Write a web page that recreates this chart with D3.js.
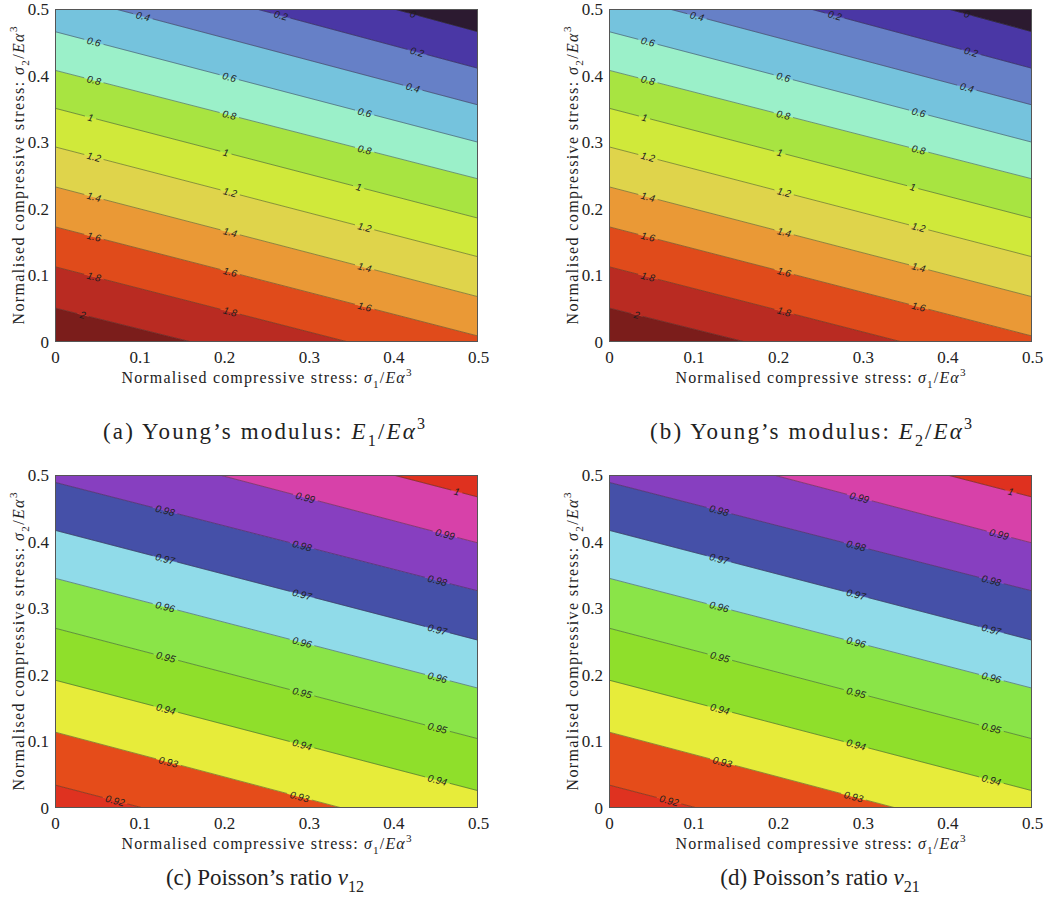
<!DOCTYPE html>
<html>
<head>
<meta charset="utf-8">
<script src="https://cdn.jsdelivr.net/npm/d3@7"></script>
<style>
  body { margin: 0; background: #fff; }
  .tick text { font-family: "Liberation Serif", serif; font-size: 17px; fill: #222; }
  .clabel { font-family: "Liberation Sans", sans-serif; font-style: italic; font-size: 10px; fill: #1e1e1e; }
  .title { font-family: "Liberation Serif", serif; fill: #222; }
</style>
</head>
<body>
<svg width="1044" height="900"></svg>
<script>
var xTicks = [0, 0.1, 0.2, 0.3, 0.4, 0.5];
var yTicks = [0, 0.1, 0.2, 0.3, 0.4, 0.5];

// contour lines listed bottom to top: sigma2 where each line meets sigma1 = 0 and sigma1 = 0.5
// (a) E1/Ea^3
var levelsA = [2, 1.8, 1.6, 1.4, 1.2, 1, 0.8, 0.6, 0.4, 0.2, 0];
var leftA = [0.051, 0.113, 0.173, 0.233, 0.293, 0.351, 0.408, 0.466, 0.524, 0.581, 0.638];
var rightA = [-0.107, -0.050, 0.009, 0.068, 0.128, 0.186, 0.245, 0.300, 0.356, 0.411, 0.466];
var labelsA = [[0.033], [0.046, 0.207], [0.046, 0.207, 0.366], [0.046, 0.207, 0.366], [0.046, 0.207, 0.366],
  [0.042, 0.202, 0.359], [0.046, 0.206, 0.366], [0.046, 0.206, 0.366], [0.104, 0.423], [0.267, 0.428], [0.423]];
var colorsA = ["#7b1d1b", "#b92b22", "#e04b1b", "#ea9936", "#dfd44b", "#d0e93a", "#a8e441",
  "#9bf0c9", "#75c3dd", "#6680c7", "#4a37a5", "#2c1a30"];

// (b) E2/Ea^3
var levelsB = [2, 1.8, 1.6, 1.4, 1.2, 1, 0.8, 0.6, 0.4, 0.2, 0];
var leftB = [0.051, 0.113, 0.173, 0.233, 0.293, 0.351, 0.408, 0.466, 0.524, 0.581, 0.638];
var rightB = [-0.107, -0.050, 0.009, 0.068, 0.128, 0.186, 0.245, 0.300, 0.356, 0.411, 0.466];
var labelsB = labelsA;
var colorsB = colorsA;

// (c) nu12
var levelsC = [0.92, 0.93, 0.94, 0.95, 0.96, 0.97, 0.98, 0.99, 1];
var leftC = [0.0345, 0.114, 0.192, 0.270, 0.345, 0.417, 0.489, 0.565, 0.632];
var rightC = [-0.131, -0.054, 0.026, 0.104, 0.180, 0.252, 0.326, 0.398, 0.467];
var labelsC = [[0.071], [0.134, 0.289], [0.131, 0.292, 0.452], [0.131, 0.292, 0.452], [0.130, 0.292, 0.452],
  [0.130, 0.292, 0.452], [0.130, 0.292, 0.452], [0.296, 0.461], [0.475]];
var colorsC = ["#df3220", "#e54c1a", "#e7ec3a", "#8fdf2b", "#8ae448", "#90dbe9", "#4550a8",
  "#873fc0", "#d741a9", "#df311f"];

// (d) nu21
var levelsD = [0.92, 0.93, 0.94, 0.95, 0.96, 0.97, 0.98, 0.99, 1];
var leftD = [0.0345, 0.114, 0.192, 0.270, 0.345, 0.417, 0.489, 0.565, 0.632];
var rightD = [-0.131, -0.054, 0.026, 0.104, 0.180, 0.252, 0.326, 0.398, 0.467];
var labelsD = labelsC;
var colorsD = colorsC;

var svg = d3.select("svg");
var pw = 423, ph = 333;

var xTitle = [["Normalised compressive stress: "], ["σ", "i"], ["1", "sub"], ["/"], ["E", "i"], ["α", "i"], ["3", "sup"]];
var yTitle = [["Normalised compressive stress: "], ["σ", "i"], ["2", "sub"], ["/"], ["E", "i"], ["α", "i"], ["3", "sup"]];

var panels = [
  {id: "a", left: 55, top: 9, levels: levelsA, l: leftA, r: rightA, labels: labelsA, colors: colorsA, capY: 439, capX: 264, capW: 322,
   caption: [["(a) Young’s modulus: "], ["E", "i"], ["1", "sub"], ["/"], ["E", "i"], ["α", "i"], ["3", "sup"]]},
  {id: "b", left: 609, top: 9, levels: levelsB, l: leftB, r: rightB, labels: labelsB, colors: colorsB, capY: 439, capX: 811, capW: 322,
   caption: [["(b) Young’s modulus: "], ["E", "i"], ["2", "sub"], ["/"], ["E", "i"], ["α", "i"], ["3", "sup"]]},
  {id: "c", left: 55, top: 475, levels: levelsC, l: leftC, r: rightC, labels: labelsC, colors: colorsC, capY: 885, capX: 265, capW: null,
   caption: [["(c) Poisson’s ratio "], ["ν", "i"], ["12", "sub"]]},
  {id: "d", left: 609, top: 475, levels: levelsD, l: leftD, r: rightD, labels: labelsD, colors: colorsD, capY: 885, capX: 820, capW: null,
   caption: [["(d) Poisson’s ratio "], ["ν", "i"], ["21", "sub"]]}
];

function mathText(sel, parts, size) {
  var cur = 0;
  parts.forEach(function(p) {
    var t = sel.append("tspan").text(p[0]);
    var off = 0;
    if (p[1] === "i") t.style("font-style", "italic");
    if (p[1] === "sub") { off = size * 0.3; t.attr("font-size", size * 0.7); }
    if (p[1] === "sup") { off = -size * 0.45; t.attr("font-size", size * 0.7); }
    if (off !== cur) t.attr("dy", off - cur);
    cur = off;
  });
}

panels.forEach(function(p) {
  var g = svg.append("g").attr("transform", "translate(" + p.left + "," + p.top + ")");
  var x = d3.scaleLinear().domain([0, 0.5]).range([0, pw]);
  var y = d3.scaleLinear().domain([0, 0.5]).range([ph, 0]);

  g.append("clipPath").attr("id", "clip-" + p.id)
    .append("rect").attr("width", pw).attr("height", ph);
  var plot = g.append("g").attr("clip-path", "url(#clip-" + p.id + ")");

  // filled bands between consecutive lines
  var bounds = [{l: -1, r: -1}]
    .concat(p.levels.map(function(v, i) { return {l: p.l[i], r: p.r[i]}; }))
    .concat([{l: 2, r: 2}]);
  plot.selectAll("path.band")
    .data(d3.pairs(bounds))
    .enter().append("path")
    .attr("class", "band")
    .attr("d", function(d) {
      return d3.line()([[x(0), y(d[0].l)], [x(0.5), y(d[0].r)], [x(0.5), y(d[1].r)], [x(0), y(d[1].l)]]) + "Z";
    })
    .attr("fill", function(d, i) { return p.colors[i]; })
    .attr("stroke", function(d, i) { return p.colors[i]; })
    .attr("stroke-width", 0.6);

  // contour lines, broken where a label sits
  p.levels.forEach(function(v, i) {
    var x0 = x(0), y0 = y(p.l[i]), x1 = x(0.5), y1 = y(p.r[i]);
    var len = Math.hypot(x1 - x0, y1 - y0);
    var ang = Math.atan2(y1 - y0, x1 - x0);
    var cuts = [];
    p.labels[i].forEach(function(s) {
      var t = (x(s) - x0) / (x1 - x0);
      var cx = x0 + t * (x1 - x0), cy = y0 + t * (y1 - y0);
      var lab = plot.append("text")
        .attr("class", "clabel")
        .attr("text-anchor", "middle")
        .attr("dy", "0.35em")
        .attr("transform", "translate(" + cx + "," + cy + ") rotate(" + (ang * 180 / Math.PI) + ")")
        .text(String(v));
      var half = lab.node().getComputedTextLength() / 2 + 3;
      cuts.push([t * len - half, t * len + half]);
    });
    var segs = [], start = 0;
    cuts.forEach(function(c) { segs.push([start, c[0]]); start = c[1]; });
    segs.push([start, len]);
    plot.selectAll(null)
      .data(segs.filter(function(s) { return s[1] > s[0]; }))
      .enter().insert("line", "text")
      .attr("x1", function(s) { return x0 + Math.cos(ang) * s[0]; })
      .attr("y1", function(s) { return y0 + Math.sin(ang) * s[0]; })
      .attr("x2", function(s) { return x0 + Math.cos(ang) * s[1]; })
      .attr("y2", function(s) { return y0 + Math.sin(ang) * s[1]; })
      .attr("stroke", "#2a2a2a")
      .attr("stroke-opacity", 0.75)
      .attr("stroke-width", 0.6);
  });

  // frame
  g.append("rect")
    .attr("x", 0.5).attr("y", 0.5)
    .attr("width", pw - 1).attr("height", ph - 1)
    .attr("fill", "none").attr("stroke", "#555").attr("stroke-width", 1);

  // axes
  var ax = g.append("g")
    .attr("transform", "translate(0," + ph + ")")
    .call(d3.axisBottom(x).tickValues(xTicks).tickSize(0).tickPadding(9).tickFormat(function(d) { return String(d); }));
  ax.select(".domain").remove();
  var ay = g.append("g")
    .call(d3.axisLeft(y).tickValues(yTicks).tickSize(0).tickPadding(6).tickFormat(function(d) { return String(d); }));
  ay.select(".domain").remove();
  g.selectAll(".tick text").attr("font-family", null).attr("font-size", null);

  // axis titles
  var xt = g.append("text").attr("class", "title")
    .attr("x", pw / 2).attr("y", ph + 41)
    .attr("text-anchor", "middle").attr("font-size", 16)
    .attr("textLength", 290).attr("lengthAdjust", "spacing");
  mathText(xt, xTitle, 16);
  var yt = g.append("text").attr("class", "title")
    .attr("transform", "translate(-31," + ph / 2 + ") rotate(-90)")
    .attr("text-anchor", "middle").attr("font-size", 16)
    .attr("textLength", 298).attr("lengthAdjust", "spacing");
  mathText(yt, yTitle, 16);

  // caption
  var cap = svg.append("text").attr("class", "title")
    .attr("x", p.capX).attr("y", p.capY)
    .attr("text-anchor", "middle").attr("font-size", 23);
  if (p.capW) cap.attr("textLength", p.capW).attr("lengthAdjust", "spacing");
  mathText(cap, p.caption, 23);
});
</script>
</body>
</html>
